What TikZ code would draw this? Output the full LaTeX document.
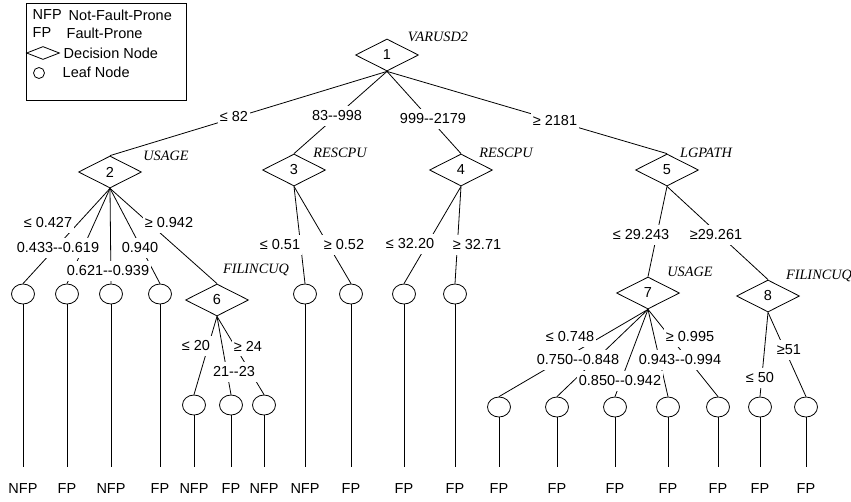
\documentclass[tikz,border=0pt]{standalone}
\usepackage{fontspec}
\setmainfont{Liberation Sans}[Ligatures=TeXOff]
\newfontfamily\attrfont{Liberation Serif}
\usetikzlibrary{shapes.geometric}

\begin{document}
\begin{tikzpicture}[x=1pt, y=-1pt, line width=0.8pt,
        every node/.style = {font=\fontsize{14.5}{16}\selectfont},
        dec/.style = {draw, diamond, minimum width=63, minimum height=32, inner sep=0pt},
        leaf/.style = {draw, ellipse, minimum width=23, minimum height=20, inner sep=0pt},
        cut/.style = {fill=white, inner xsep=2pt, inner ysep=5pt},
        attr/.style = {font=\fontsize{14.3}{16}\selectfont\attrfont\itshape},
        cls/.style = {inner sep=2pt},
        tail/.style = {shorten >=15pt}]
            \useasboundingbox (0,0) rectangle (851,501);

            % legend
            \draw (26,3) rectangle (186,100);
            \node[anchor=west] (knfp) at (29,15) {NFP};
            \node[anchor=west] (tnfp) at (65,15) {Not-Fault-Prone};
            \node[anchor=west] (kfp) at (29,33) {FP};
            \node[anchor=west] (tfp) at (63,33) {Fault-Prone};
            \node[draw, diamond, minimum width=33, minimum height=13, inner sep=0pt] (kdec) at (43,53) {};
            \node[anchor=west] (tdec) at (60,53) {Decision Node};
            \node[draw, circle, minimum size=11, inner sep=0pt] (kleaf) at (39,73) {};
            \node[anchor=west] (tleaf) at (59,72) {Leaf Node};

            % decision nodes
            \node[dec] (n1) at (387,55) {1};
            \node[dec] (n2) at (110,172) {2};
            \node[dec] (n3) at (294,170) {3};
            \node[dec] (n4) at (461,170) {4};
            \node[dec] (n5) at (667,170) {5};
            \node[dec] (n6) at (217,300) {6};
            \node[dec] (n7) at (648,293) {7};
            \node[dec] (n8) at (768,296) {8};

            \node[attr] (a1) at (438,37) {VARUSD2};
            \node[attr] (a2) at (166,156) {USAGE};
            \node[attr] (a3) at (340,153) {RESCPU};
            \node[attr] (a4) at (506,153) {RESCPU};
            \node[attr] (a5) at (706,153) {LGPATH};
            \node[attr] (a6) at (256,270) {FILINCUQ};
            \node[attr] (a7) at (690,272) {USAGE};
            \node[attr] (a8) at (819,276) {FILINCUQ};

            % leaves
            \node[leaf] (l1) at (23,294) {};
            \node[leaf] (l2) at (67,294) {};
            \node[leaf] (l3) at (111,294) {};
            \node[leaf] (l4) at (160,294) {};
            \node[leaf] (l5) at (194,405) {};
            \node[leaf] (l6) at (231,405) {};
            \node[leaf] (l7) at (264,405) {};
            \node[leaf] (l8) at (305,294) {};
            \node[leaf] (l9) at (351,294) {};
            \node[leaf] (l10) at (404,294) {};
            \node[leaf] (l11) at (455,294) {};
            \node[leaf] (l12) at (499,407) {};
            \node[leaf] (l13) at (557,407) {};
            \node[leaf] (l14) at (615,407) {};
            \node[leaf] (l15) at (668,407) {};
            \node[leaf] (l16) at (718,407) {};
            \node[leaf] (l17) at (760,407) {};
            \node[leaf] (l18) at (806,407) {};

            % classes
            \node[cls] (c1) at (l1 |- 0,489) {NFP};
            \node[cls] (c2) at (l2 |- 0,489) {FP};
            \node[cls] (c3) at (l3 |- 0,489) {NFP};
            \node[cls] (c4) at (l4 |- 0,489) {FP};
            \node[cls] (c5) at (l5 |- 0,489) {NFP};
            \node[cls] (c6) at (l6 |- 0,489) {FP};
            \node[cls] (c7) at (l7 |- 0,489) {NFP};
            \node[cls] (c8) at (l8 |- 0,489) {NFP};
            \node[cls] (c9) at (l9 |- 0,489) {FP};
            \node[cls] (c10) at (l10 |- 0,489) {FP};
            \node[cls] (c11) at (l11 |- 0,489) {FP};
            \node[cls] (c12) at (l12 |- 0,489) {FP};
            \node[cls] (c13) at (l13 |- 0,489) {FP};
            \node[cls] (c14) at (l14 |- 0,489) {FP};
            \node[cls] (c15) at (l15 |- 0,489) {FP};
            \node[cls] (c16) at (l16 |- 0,489) {FP};
            \node[cls] (c17) at (l17 |- 0,489) {FP};
            \node[cls] (c18) at (l18 |- 0,489) {FP};

            % branches
            \draw (n1.south) -- (n2.north);
            \draw (n1.south) -- (n3.north);
            \draw (n1.south) -- (n4.north);
            \draw (n1.south) -- (n5.north);

            \draw (n2.south) -- (l1.north);
            \draw (n2.south) -- (l2.north);
            \draw (n2.south) -- (l3.north);
            \draw (n2.south) -- (l4.north);
            \draw (n2.south) -- (n6.north);

            \draw (n3.south) -- (l8.north);
            \draw (n3.south) -- (l9.north);
            \draw (n4.south) -- (l10.north);
            \draw (n4.south) -- (l11.north);

            \draw (n5.south) -- (n7.north);
            \draw (n5.south) -- (n8.north);

            \draw (n6.south) -- (l5.north);
            \draw (n6.south) -- (l6.north);
            \draw (n6.south) -- (l7.north);

            \draw (n7.south) -- (l12.north);
            \draw (n7.south) -- (l13.north);
            \draw (n7.south) -- (l14.north);
            \draw (n7.south) -- (l15.north);
            \draw (n7.south) -- (l16.north);

            \draw (n8.south) -- (l17.north);
            \draw (n8.south) -- (l18.north);

            % leaf to class
            \draw[tail] (l1) -- (c1);
            \draw[tail] (l2) -- (c2);
            \draw[tail] (l3) -- (c3);
            \draw[tail] (l4) -- (c4);
            \draw[tail] (l5) -- (c5);
            \draw[tail] (l6) -- (c6);
            \draw[tail] (l7) -- (c7);
            \draw[tail] (l8) -- (c8);
            \draw[tail] (l9) -- (c9);
            \draw[tail] (l10) -- (c10);
            \draw[tail] (l11) -- (c11);
            \draw[tail] (l12) -- (c12);
            \draw[tail] (l13) -- (c13);
            \draw[tail] (l14) -- (c14);
            \draw[tail] (l15) -- (c15);
            \draw[tail] (l16) -- (c16);
            \draw[tail] (l17) -- (c17);
            \draw[tail] (l18) -- (c18);

            % split values (on top of the branches)
            \node[cut] (s12) at (234,117) {≤ 82};
            \node[cut] (s13) at (337,116) {83-{}-998};
            \node[cut] (s14) at (433,119) {999-{}-2179};
            \node[cut] (s15) at (555,121) {≥ 2181};

            \node[cut] (s21) at (48,223) {≤ 0.427};
            \node[cut] (s22) at (58,248) {0.433-{}-0.619};
            \node[cut] (s23) at (108,271) {0.621-{}-0.939};
            \node[cut] (s24) at (140,248) {0.940};
            \node[cut] (s26) at (169,223) {≥ 0.942};

            \node[cut] (s38) at (280,245) {≤ 0.51};
            \node[cut] (s39) at (344,245) {≥ 0.52};
            \node[cut] (s410) at (410,244) {≤ 32.20};
            \node[cut] (s411) at (477,245) {≥ 32.71};

            \node[cut] (s57) at (641,235) {≤ 29.243};
            \node[cut] (s58) at (716,235) {≥29.261};

            \node[cut] (s65) at (196,346) {≤ 20};
            \node[cut] (s66) at (234,372) {21-{}-23};
            \node[cut] (s67) at (248,346) {≥ 24};

            \node[cut] (s712) at (570,337) {≤ 0.748};
            \node[cut] (s713) at (578,360) {0.750-{}-0.848};
            \node[cut] (s714) at (620,381) {0.850-{}-0.942};
            \node[cut] (s715) at (680,360) {0.943-{}-0.994};
            \node[cut] (s716) at (690,337) {≥ 0.995};

            \node[cut] (s817) at (760,378) {≤ 50};
            \node[cut] (s818) at (789,350) {≥51};
        \end{tikzpicture}
\end{document}
